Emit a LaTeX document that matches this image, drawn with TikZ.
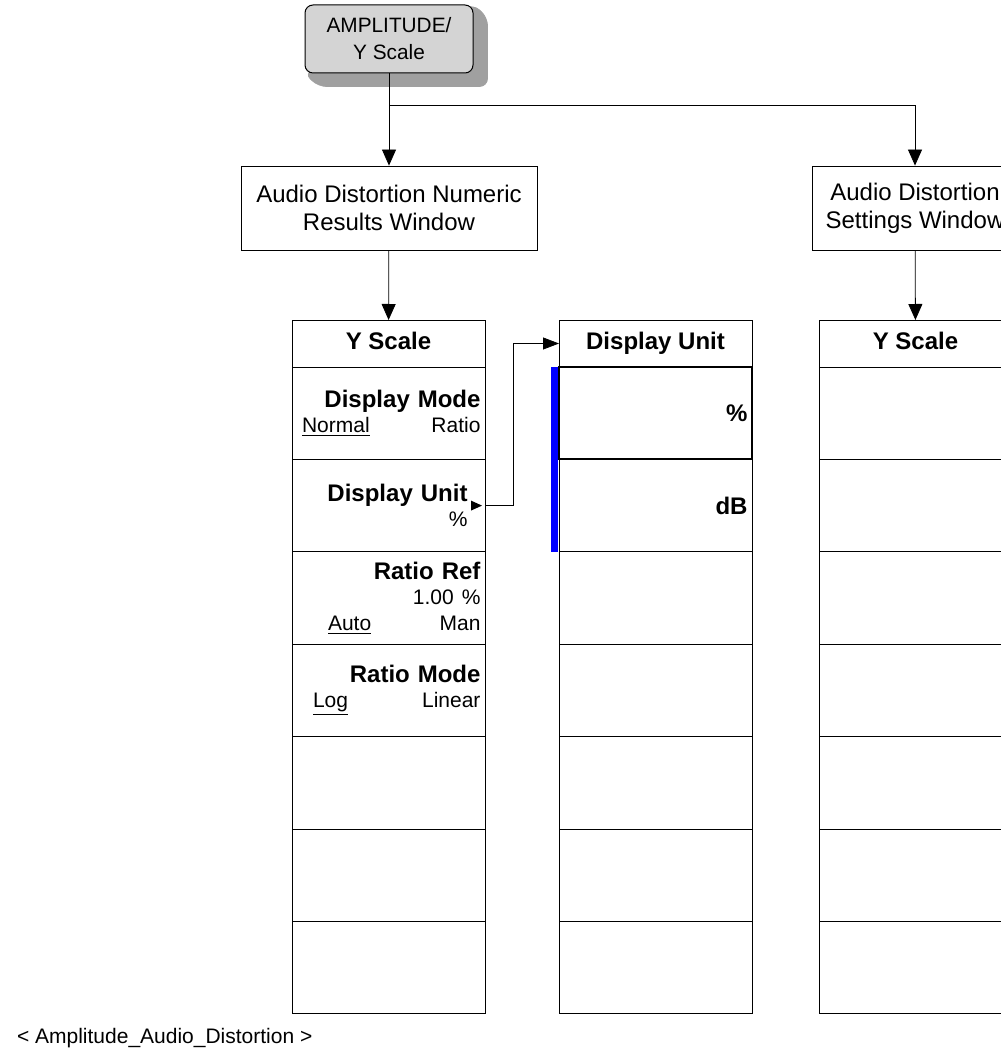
\documentclass[tikz,border=0pt]{standalone}
\usepackage{fontspec}
\setmainfont{Liberation Sans}
\usetikzlibrary{arrows.meta, positioning, backgrounds}
\definecolor{keyface}{RGB}{212,212,212}
\definecolor{keyshade}{RGB}{160,160,160}
\definecolor{activebar}{RGB}{0,0,255}
\newcommand{\subtxt}{\fontsize{10.5}{12.75}\selectfont}
\newcommand{\softpair}[3][0pt]{\makebox[\hsize]{\hspace*{#1}\underline{#2}\hfill #3}}

\begin{document}
\begin{tikzpicture}[
  x=0.5pt, y=-0.5pt,
  line width=0.5pt,
  hardkey/.style={draw, fill=keyface, rounded corners=4pt, minimum width=84pt,
                  minimum height=34pt, align=center, inner sep=0pt,
                  font=\fontsize{10.4}{13.5}\selectfont},
  window/.style={draw, minimum height=42pt, align=center, inner sep=0pt,
                 font=\fontsize{12}{14}\selectfont},
  menuhead/.style={draw, outer sep=0pt, minimum width=96.5pt, minimum height=23.5pt,
                   inner sep=0pt, text height=8.6pt, text depth=2.4pt,
                   font=\bfseries\fontsize{12}{14}\selectfont},
  softkey/.style={draw, outer sep=0pt, minimum width=96.5pt, minimum height=46.2pt,
                  text width=92pt, inner sep=0pt, align=right,
                  font=\fontsize{12}{12.75}\selectfont},
  arr/.style={-{Triangle[length=8pt,width=7pt]}},
]
  \useasboundingbox (0,0) rectangle (1000,1058);

  % front panel key and the two windows
  \node[hardkey] (amp) at (389,39) {AMPLITUDE/\\Y Scale};
  \begin{pgfonlayer}{background}
    \filldraw[keyshade, rounded corners=4pt] (amp.north east)
      -- ([shift={(7pt,-6.5pt)}]amp.north east)
      -- ([shift={(7pt,-6.5pt)}]amp.south east)
      -- ([shift={(7pt,-6.5pt)}]amp.south west)
      -- (amp.south west) -- cycle;
  \end{pgfonlayer}
  \node[window, minimum width=148pt] (numres) at (389,208) {Audio Distortion Numeric\\Results Window};
  \node[window, minimum width=103pt] (setwin) at (915,208) {Audio Distortion\\Settings Window};

  % Y Scale menu (numeric results)
  \node[menuhead] (ysA) at (388.5,343.5) {Y Scale};
  \node[softkey, below=0pt of ysA] (ysA1) {\textbf{Display Mode}\\{\subtxt\softpair[2.75pt]{Normal}{Ratio}}};
  \node[softkey, below=0pt of ysA1] (ysA2) {\textbf{Display Unit}\makebox[6.5pt]{}\\{\subtxt\%}\makebox[6.5pt]{}};
  \node[softkey, below=0pt of ysA2] (ysA3) {\textbf{Ratio Ref}\\{\subtxt 1.00 \%}\\{\subtxt\softpair[15.75pt]{Auto}{Man}}};
  \node[softkey, below=0pt of ysA3] (ysA4) {\textbf{Ratio Mode}\\{\subtxt\softpair[8.25pt]{Log}{Linear}}};
  \foreach \i [count=\j from 5] in {4,5,6}
    \node[softkey, below=0pt of ysA\i] (ysA\j) {};
  \fill ([xshift=-1.5pt]ysA2.east) -- ++(-5.5pt,2.5pt) -- ++(0,-5pt) -- cycle;

  % Display Unit submenu
  \node[menuhead] (duA) at (655.5,343.5) {Display Unit};
  \node[softkey, below=0pt of duA] (duA1) {\textbf{\%}};
  \node[softkey, below=0pt of duA1] (duA2) {\textbf{dB}};
  \foreach \i [count=\j from 3] in {2,...,6}
    \node[softkey, below=0pt of duA\i] (duA\j) {};
  \draw[line width=1pt] (duA1.north west) rectangle (duA1.south east);
  \fill[activebar] ([xshift=-4pt]duA1.north west) rectangle ([xshift=-0.4pt]duA2.south west);

  % Y Scale menu (settings)
  \node[menuhead] (ysB) at (915.5,343.5) {Y Scale};
  \node[softkey, below=0pt of ysB] (ysB1) {};
  \foreach \i [count=\j from 2] in {1,...,6}
    \node[softkey, below=0pt of ysB\i] (ysB\j) {};

  \coordinate (fork) at ([yshift=-16pt]amp.south);
  \draw[arr] (amp.south) -- (numres.north);
  \draw[arr] (fork) -| (setwin.north);
  \draw[arr] (numres) -- (ysA);
  \draw[arr] (setwin) -- (ysB);
  \draw[-{Triangle[length=8pt,width=6pt]}] (ysA2.east) -- ++(14pt,0) |- (duA.west);

  \node[anchor=west, font=\subtxt] (caption) at (10,1038) {< Amplitude\_Audio\_Distortion >};
\end{tikzpicture}
\end{document}
